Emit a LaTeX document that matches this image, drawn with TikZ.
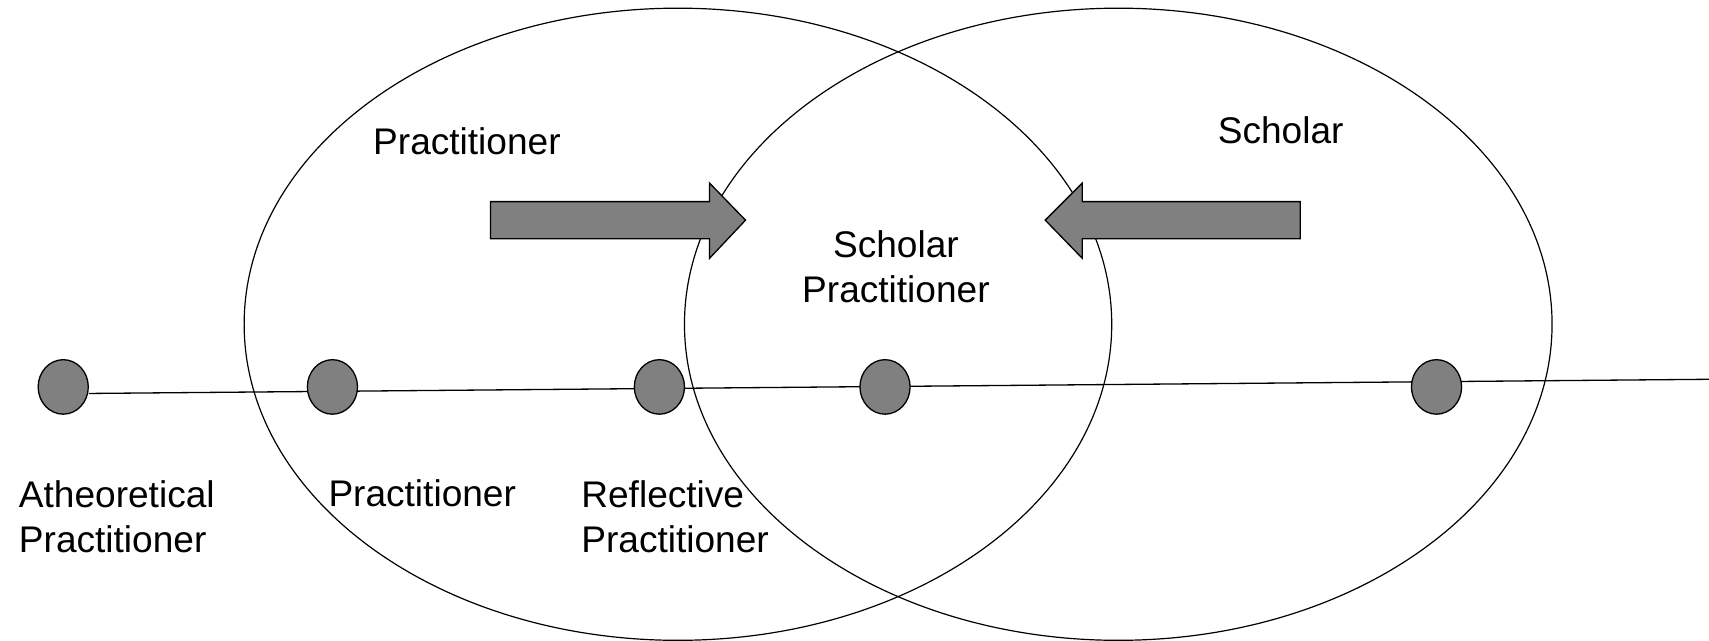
\documentclass[tikz,border=0pt]{standalone}
\usepackage{fontspec}
\setmainfont{Liberation Sans}
\usetikzlibrary{shapes.geometric}
\definecolor{dotgray}{HTML}{808080}
\tikzset{
  bigring/.style={ellipse, draw, line width=0.55pt, inner sep=0pt, minimum width=398pt, minimum height=290pt},
  dotnode/.style={ellipse, draw, line width=0.6pt, fill=dotgray, inner sep=0pt, minimum width=23pt, minimum height=25pt},
  fatarrow/.style={draw, line width=0.6pt, fill=dotgray, line join=miter},
  lbl/.style={inner sep=0pt, font=\fontsize{17}{20.5}\selectfont},
  axis/.style={line width=0.6pt}
}
\begin{document}
\begin{tikzpicture}[x=0.5pt,y=-0.5pt]
\useasboundingbox (0,0) rectangle (1568,588);
% Venn ellipses
\node[bigring] (prac) at (622,297.5) {};
\node[bigring] (schol) at (1026,297.5) {};
% block arrows
\draw[fatarrow] (450,185) -- (651,185) -- (651,168) -- (684,202) -- (651,237) -- (651,219) -- (450,219) -- cycle;
\draw[fatarrow] (1193,185) -- (993,185) -- (993,168) -- (959,202) -- (993,237) -- (993,219) -- (1193,219) -- cycle;
% continuum line and dots
\coordinate (lend) at (1568,348);
\node[dotnode] (d1) at (58,355) {};
\draw[axis] ([yshift=-3pt]d1.east) -- (lend);
\node[dotnode] (d2) at (305,355) {};
\node[dotnode] (d3) at (605,355) {};
\node[dotnode] (d4) at (812,355) {};
\node[dotnode] (d5) at (1318,355) {};
% labels
\node[lbl, anchor=base west] (tprac) at (342,142) {Practitioner};
\node[lbl, anchor=base west] (tschol) at (1117,132) {Scholar};
\node[lbl, align=center] (tsp) at (822,245) {Scholar\\Practitioner};
\node[lbl, anchor=west, align=left] (t1) at (17,474) {Atheoretical\\Practitioner};
\node[lbl, anchor=base west] (t2) at (301,465) {Practitioner};
\node[lbl, anchor=west, align=left] (t3) at (533,474) {Reflective\\Practitioner};
\end{tikzpicture}
\end{document}
